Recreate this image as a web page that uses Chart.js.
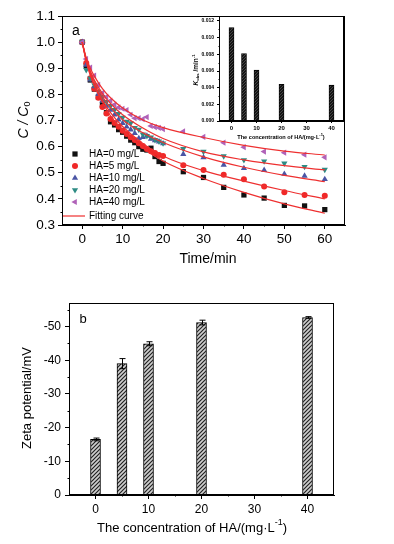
<!DOCTYPE html>
<html>
<head>
<meta charset="utf-8">
<script src="https://cdn.jsdelivr.net/npm/chart.js@4.4.1/dist/chart.umd.min.js"></script>
<style>
  html, body { margin: 0; padding: 0; background: #fff; }
  #page { position: relative; width: 394px; height: 544px; overflow: hidden; }
  .box { position: absolute; }
</style>
</head>
<body>
<div id="page">
  <div class="box" style="left:0;top:0;width:394px;height:280px"><canvas id="kinetics"></canvas></div>
  <div class="box" style="left:180px;top:0;width:214px;height:145px"><canvas id="inset"></canvas></div>
  <div class="box" style="left:0;top:285px;width:394px;height:259px"><canvas id="zeta"></canvas></div>
</div>
<script>
// ---- data (a): C/C0 vs time ----
const timeMin = [0, 1, 2, 3, 4, 5, 6, 7, 8, 9, 10, 11, 12, 13, 14, 15, 16, 17, 18, 19, 20, 25, 30, 35, 40, 45, 50, 55, 60];
const ha0  = [1.000, 0.910, 0.855, 0.820, 0.790, 0.760, 0.730, 0.695, 0.683, 0.665, 0.655, 0.640, 0.625, 0.615, 0.600, 0.590, 0.587, 0.594, 0.562, 0.543, 0.536, 0.504, 0.482, 0.444, 0.415, 0.403, 0.375, 0.373, 0.359];
const ha5  = [1.000, 0.920, 0.862, 0.822, 0.787, 0.752, 0.727, 0.706, 0.690, 0.676, 0.661, 0.648, 0.636, 0.625, 0.613, 0.602, 0.591, 0.582, 0.576, 0.568, 0.564, 0.529, 0.511, 0.492, 0.475, 0.447, 0.425, 0.415, 0.412];
const ha10 = [1.000, 0.913, 0.856, 0.830, 0.802, 0.776, 0.756, 0.740, 0.722, 0.703, 0.690, 0.676, 0.665, 0.651, 0.632, 0.636, 0.641, 0.629, 0.624, 0.619, 0.612, 0.571, 0.559, 0.530, 0.517, 0.510, 0.495, 0.488, 0.475];
const ha20 = [1.000, 0.894, 0.862, 0.836, 0.811, 0.791, 0.772, 0.756, 0.741, 0.726, 0.711, 0.696, 0.690, 0.672, 0.665, 0.647, 0.641, 0.636, 0.626, 0.620, 0.613, 0.592, 0.581, 0.564, 0.549, 0.544, 0.536, 0.523, 0.512];
const ha40 = [1.000, 0.935, 0.902, 0.872, 0.836, 0.806, 0.790, 0.776, 0.761, 0.750, 0.745, 0.740, 0.722, 0.709, 0.709, 0.705, 0.713, 0.679, 0.675, 0.672, 0.667, 0.658, 0.637, 0.615, 0.598, 0.581, 0.577, 0.569, 0.559];

// fitting curves
const fitTime = [0, 1, 2, 3, 5, 7, 10, 15, 20, 30, 40, 50, 60];
const fit0  = [1.000, 0.925, 0.872, 0.832, 0.770, 0.718, 0.662, 0.595, 0.545, 0.478, 0.425, 0.381, 0.345];
const fit5  = [1.000, 0.928, 0.877, 0.838, 0.778, 0.730, 0.677, 0.612, 0.564, 0.508, 0.468, 0.432, 0.400];
const fit10 = [1.000, 0.932, 0.885, 0.848, 0.792, 0.750, 0.703, 0.653, 0.616, 0.561, 0.521, 0.490, 0.466];
const fit20 = [1.000, 0.934, 0.890, 0.855, 0.803, 0.765, 0.722, 0.671, 0.631, 0.580, 0.549, 0.527, 0.511];
const fit40 = [1.000, 0.940, 0.900, 0.870, 0.822, 0.787, 0.748, 0.702, 0.673, 0.635, 0.605, 0.583, 0.568];

const seriesNames = ['HA=0 mg/L', 'HA=5 mg/L', 'HA=10 mg/L', 'HA=20 mg/L', 'HA=40 mg/L'];
const timeTicks = [0, 10, 20, 30, 40, 50, 60];
const ratioTicks = [0.3, 0.4, 0.5, 0.6, 0.7, 0.8, 0.9, 1.0, 1.1];

// ---- data inset: k_obs vs HA ----
const haConc = [0, 5, 10, 20, 40];
const kobs = [0.0112, 0.0081, 0.0061, 0.0044, 0.0043];
const concTicks = [0, 10, 20, 30, 40];
const kobsTicks = [0, 0.002, 0.004, 0.006, 0.008, 0.010, 0.012];

// ---- data (b): zeta potential ----
const zeta = [-16.5, -39.0, -44.9, -51.2, -52.7];
const zetaErr = [0.4, 1.5, 0.6, 0.7, 0.25];
const zetaTicks = [0, -10, -20, -30, -40, -50];

const FONT = '"Liberation Sans", Arial, sans-serif';
const fitRed = '#ee3030';
const markers = [
  { style: 'rect', rot: 0, color: '#111111', r: 3.7 },
  { style: 'circle', rot: 0, color: '#f02828', r: 3 },
  { style: 'triangle', rot: 0, color: '#4b55a5', r: 3.6 },
  { style: 'triangle', rot: 180, color: '#2e8b84', r: 3.6 },
  { style: 'triangle', rot: -90, color: '#b062b8', r: 3.6 }
];

function hatch(bg, fg, size, lw) {
  const c = document.createElement('canvas');
  c.width = c.height = size;
  const g = c.getContext('2d');
  g.fillStyle = bg;
  g.fillRect(0, 0, size, size);
  g.strokeStyle = fg;
  g.lineWidth = lw;
  g.beginPath();
  g.moveTo(-1, size + 1); g.lineTo(size + 1, -1);
  g.moveTo(-1, 1); g.lineTo(1, -1);
  g.moveTo(size - 1, size + 1); g.lineTo(size + 1, size - 1);
  g.stroke();
  return g.createPattern(c, 'repeat');
}

// text made of pieces (sub/superscripts), centred on (cx, cy)
function drawRich(ctx, parts, cx, cy, rot) {
  ctx.save();
  ctx.translate(cx, cy);
  if (rot) ctx.rotate(rot * Math.PI / 180);
  ctx.textBaseline = 'middle';
  ctx.fillStyle = '#000';
  let total = 0;
  parts.forEach(p => { ctx.font = p.f + ' ' + FONT; total += ctx.measureText(p.t).width; });
  let x = -total / 2;
  parts.forEach(p => {
    ctx.font = p.f + ' ' + FONT;
    ctx.fillText(p.t, x, p.dy || 0);
    x += ctx.measureText(p.t).width;
  });
  ctx.restore();
}

const textPlugin = {
  id: 'texts',
  afterDraw(chart, args, opts) {
    (opts.items || []).forEach(it => drawRich(chart.ctx, it.parts, it.x, it.y, it.rot));
  }
};

const framePlugin = {
  id: 'frame',
  afterDraw(chart, args, opts) {
    const { ctx, chartArea: a, scales } = chart;
    const L = Math.round(a.left) + 0.5, T = Math.round(a.top) + 0.5;
    const R = Math.round(a.right) - 0.5, B = Math.round(a.bottom) - 0.5;
    ctx.save();
    ctx.strokeStyle = '#000';
    ctx.lineWidth = 1;
    ctx.strokeRect(L, T, R - L, B - T);
    ctx.beginPath();
    (opts.minorX || []).forEach(v => {
      const x = Math.round(scales.x.getPixelForValue(v)) + 0.5;
      ctx.moveTo(x, B); ctx.lineTo(x, B + opts.minorLen);
    });
    (opts.minorY || []).forEach(v => {
      const y = Math.round(scales.y.getPixelForValue(v)) + 0.5;
      ctx.moveTo(L, y); ctx.lineTo(L - opts.minorLen, y);
    });
    ctx.stroke();
    ctx.restore();
  }
};

const keyPlugin = {
  id: 'markerKey',
  afterDraw(chart) {
    const { ctx, chartArea: a } = chart;
    ctx.save();
    ctx.font = '10px ' + FONT;
    ctx.textBaseline = 'middle';
    seriesNames.forEach((name, i) => {
      const y = a.bottom - 71 + i * 12;
      const m = markers[i];
      ctx.fillStyle = m.color;
      Chart.helpers.drawPoint(ctx, { pointStyle: m.style, rotation: m.rot, radius: m.r, borderWidth: 0 }, a.left + 13, y);
      ctx.fillStyle = '#000';
      ctx.fillText(name, a.left + 27, y);
    });
    const y = a.bottom - 9;
    ctx.strokeStyle = fitRed;
    ctx.lineWidth = 1.2;
    ctx.beginPath();
    ctx.moveTo(a.left + 1, y); ctx.lineTo(a.left + 23, y);
    ctx.stroke();
    ctx.fillStyle = '#000';
    ctx.fillText('Fitting curve', a.left + 27, y);
    ctx.restore();
  }
};

const errorBarPlugin = {
  id: 'errorBars',
  afterDatasetsDraw(chart) {
    const { ctx, scales } = chart;
    ctx.save();
    ctx.strokeStyle = '#000';
    ctx.lineWidth = 1;
    ctx.beginPath();
    haConc.forEach((c, i) => {
      const x = Math.round(scales.x.getPixelForValue(c)) + 0.5;
      const y1 = scales.y.getPixelForValue(zeta[i] - zetaErr[i]);
      const y2 = scales.y.getPixelForValue(zeta[i] + zetaErr[i]);
      ctx.moveTo(x, y1); ctx.lineTo(x, y2);
      ctx.moveTo(x - 3, y1); ctx.lineTo(x + 3, y1);
      ctx.moveTo(x - 3, y2); ctx.lineTo(x + 3, y2);
    });
    ctx.stroke();
    ctx.restore();
  }
};

function axis(opts) {
  return Object.assign({
    type: 'linear',
    offset: false,
    border: { display: true, color: '#000', width: 1 },
    grid: { drawOnChartArea: false, color: '#000', tickLength: 4, offset: false }
  }, opts);
}

// ---------- chart (a) ----------
// later HA series sit on top of earlier ones, fitted lines on top of all
const pointSets = [ha0, ha5, ha10, ha20, ha40].map((vals, i) => ({
  type: 'scatter',
  label: seriesNames[i],
  data: timeMin.map((t, j) => ({ x: t, y: vals[j] })),
  pointStyle: markers[i].style,
  rotation: markers[i].rot,
  pointRadius: markers[i].r,
  backgroundColor: markers[i].color,
  borderColor: markers[i].color,
  borderWidth: 0,
  order: 6 - i
}));
const fitSets = [fit0, fit5, fit10, fit20, fit40].map(vals => ({
  type: 'line',
  label: 'Fitting curve',
  data: fitTime.map((t, j) => ({ x: t, y: vals[j] })),
  borderColor: fitRed,
  borderWidth: 1.2,
  pointRadius: 0,
  fill: false,
  cubicInterpolationMode: 'monotone',
  order: 0
}));

new Chart('kinetics', {
  type: 'scatter',
  data: { datasets: [...pointSets, ...fitSets] },
  options: {
    responsive: true,
    maintainAspectRatio: false,
    animation: false,
    layout: { padding: { left: 0, top: 16, right: 49, bottom: 0 } },
    scales: {
      x: axis({
        min: -5, max: 65,
        afterBuildTicks(s) { s.ticks = timeTicks.map(v => ({ value: v })); },
        afterFit(s) { s.height = 55; },
        ticks: { color: '#000', font: { family: FONT, size: 13.5 }, padding: 2, maxRotation: 0, autoSkip: false }
      }),
      y: axis({
        min: 0.3, max: 1.1,
        afterBuildTicks(s) { s.ticks = ratioTicks.map(v => ({ value: v })); },
        afterFit(s) { s.width = 62; },
        ticks: { color: '#000', font: { family: FONT, size: 13.5 }, padding: 3, autoSkip: false, callback: v => v.toFixed(1) }
      })
    },
    plugins: {
      legend: { display: false },
      tooltip: { enabled: false },
      frame: {
        minorLen: 2,
        minorX: [5, 15, 25, 35, 45, 55],
        minorY: [0.35, 0.45, 0.55, 0.65, 0.75, 0.85, 0.95, 1.05]
      },
      texts: {
        items: [
          { parts: [{ t: 'Time/min', f: '14px' }], x: 208, y: 259 },
          { parts: [{ t: 'C / C', f: 'italic 14px' }, { t: '0', f: '9px', dy: 4 }], x: 24, y: 120, rot: -90 },
          { parts: [{ t: 'a', f: '14px' }], x: 76, y: 31 }
        ]
      }
    }
  },
  plugins: [framePlugin, keyPlugin, textPlugin]
});

// ---------- inset ----------
new Chart('inset', {
  type: 'bar',
  data: {
    datasets: [{
      data: haConc.map((c, i) => ({ x: c, y: kobs[i] })),
      backgroundColor: hatch('#141414', '#5a5a5a', 3, 0.7),
      borderColor: '#000',
      borderWidth: 0.8,
      barThickness: 5
    }]
  },
  options: {
    responsive: true,
    maintainAspectRatio: false,
    animation: false,
    layout: { padding: { left: 0, top: 16, right: 50, bottom: 0 } },
    scales: {
      x: axis({
        min: -5, max: 45,
        afterBuildTicks(s) { s.ticks = concTicks.map(v => ({ value: v })); },
        afterFit(s) { s.height = 24; },
        grid: { drawOnChartArea: false, color: '#000', tickLength: 2, offset: false },
        ticks: { color: '#000', font: { family: FONT, size: 6, weight: 'bold' }, padding: 2, maxRotation: 0, autoSkip: false }
      }),
      y: axis({
        min: 0, max: 0.0126,
        afterBuildTicks(s) { s.ticks = kobsTicks.map(v => ({ value: v })); },
        afterFit(s) { s.width = 39; },
        grid: { drawOnChartArea: false, color: '#000', tickLength: 2, offset: false },
        ticks: { color: '#000', font: { family: FONT, size: 5, weight: 'bold' }, padding: 3, autoSkip: false, callback: v => v.toFixed(3) }
      })
    },
    plugins: {
      legend: { display: false },
      tooltip: { enabled: false },
      frame: { minorLen: 1, minorX: [5, 15, 25, 35], minorY: [0.001, 0.003, 0.005, 0.007, 0.009, 0.011] },
      texts: {
        items: [
          { parts: [{ t: 'The concentration of HA/(mg·L', f: 'bold 5.6px' }, { t: '-1', f: 'bold 4px', dy: -2.2 }, { t: ')', f: 'bold 5.6px' }], x: 101, y: 137 },
          { parts: [{ t: 'K', f: 'italic bold 6.5px' }, { t: 'obs', f: 'bold 4.2px', dy: 1.6 }, { t: ' /min', f: 'bold 6.5px' }, { t: '-1', f: 'bold 4.2px', dy: -2.4 }], x: 16, y: 70, rot: -90 }
        ]
      }
    }
  },
  plugins: [framePlugin, textPlugin]
});

// ---------- chart (b) ----------
new Chart('zeta', {
  type: 'bar',
  data: {
    datasets: [{
      data: haConc.map((c, i) => ({ x: c, y: zeta[i] })),
      backgroundColor: hatch('#cfcfcf', '#222222', 4, 1.2),
      borderColor: '#000',
      borderWidth: 1,
      barThickness: 10
    }]
  },
  options: {
    responsive: true,
    maintainAspectRatio: false,
    animation: false,
    layout: { padding: { left: 0, top: 18, right: 60, bottom: 0 } },
    scales: {
      x: axis({
        min: -5, max: 45,
        afterBuildTicks(s) { s.ticks = concTicks.map(v => ({ value: v })); },
        afterFit(s) { s.height = 49; },
        ticks: { color: '#000', font: { family: FONT, size: 12 }, padding: 3, maxRotation: 0, autoSkip: false }
      }),
      y: axis({
        min: -57, max: 0, reverse: true,
        afterBuildTicks(s) { s.ticks = zetaTicks.map(v => ({ value: v })); },
        afterFit(s) { s.width = 69; },
        ticks: { color: '#000', font: { family: FONT, size: 12 }, padding: 4, autoSkip: false, callback: v => String(v) }
      })
    },
    plugins: {
      legend: { display: false },
      tooltip: { enabled: false },
      frame: { minorLen: 2, minorX: [5, 15, 25, 35], minorY: [-5, -15, -25, -35, -45, -55] },
      texts: {
        items: [
          { parts: [{ t: 'The concentration of HA/(mg·L', f: '13px' }, { t: '-1', f: '9px', dy: -5 }, { t: ')', f: '13px' }], x: 192, y: 243 },
          { parts: [{ t: 'Zeta potential/mV', f: '13px' }], x: 27, y: 113, rot: -90 },
          { parts: [{ t: 'b', f: '13px' }], x: 83, y: 34 }
        ]
      }
    }
  },
  plugins: [framePlugin, errorBarPlugin, textPlugin]
});
</script>
</body>
</html>
